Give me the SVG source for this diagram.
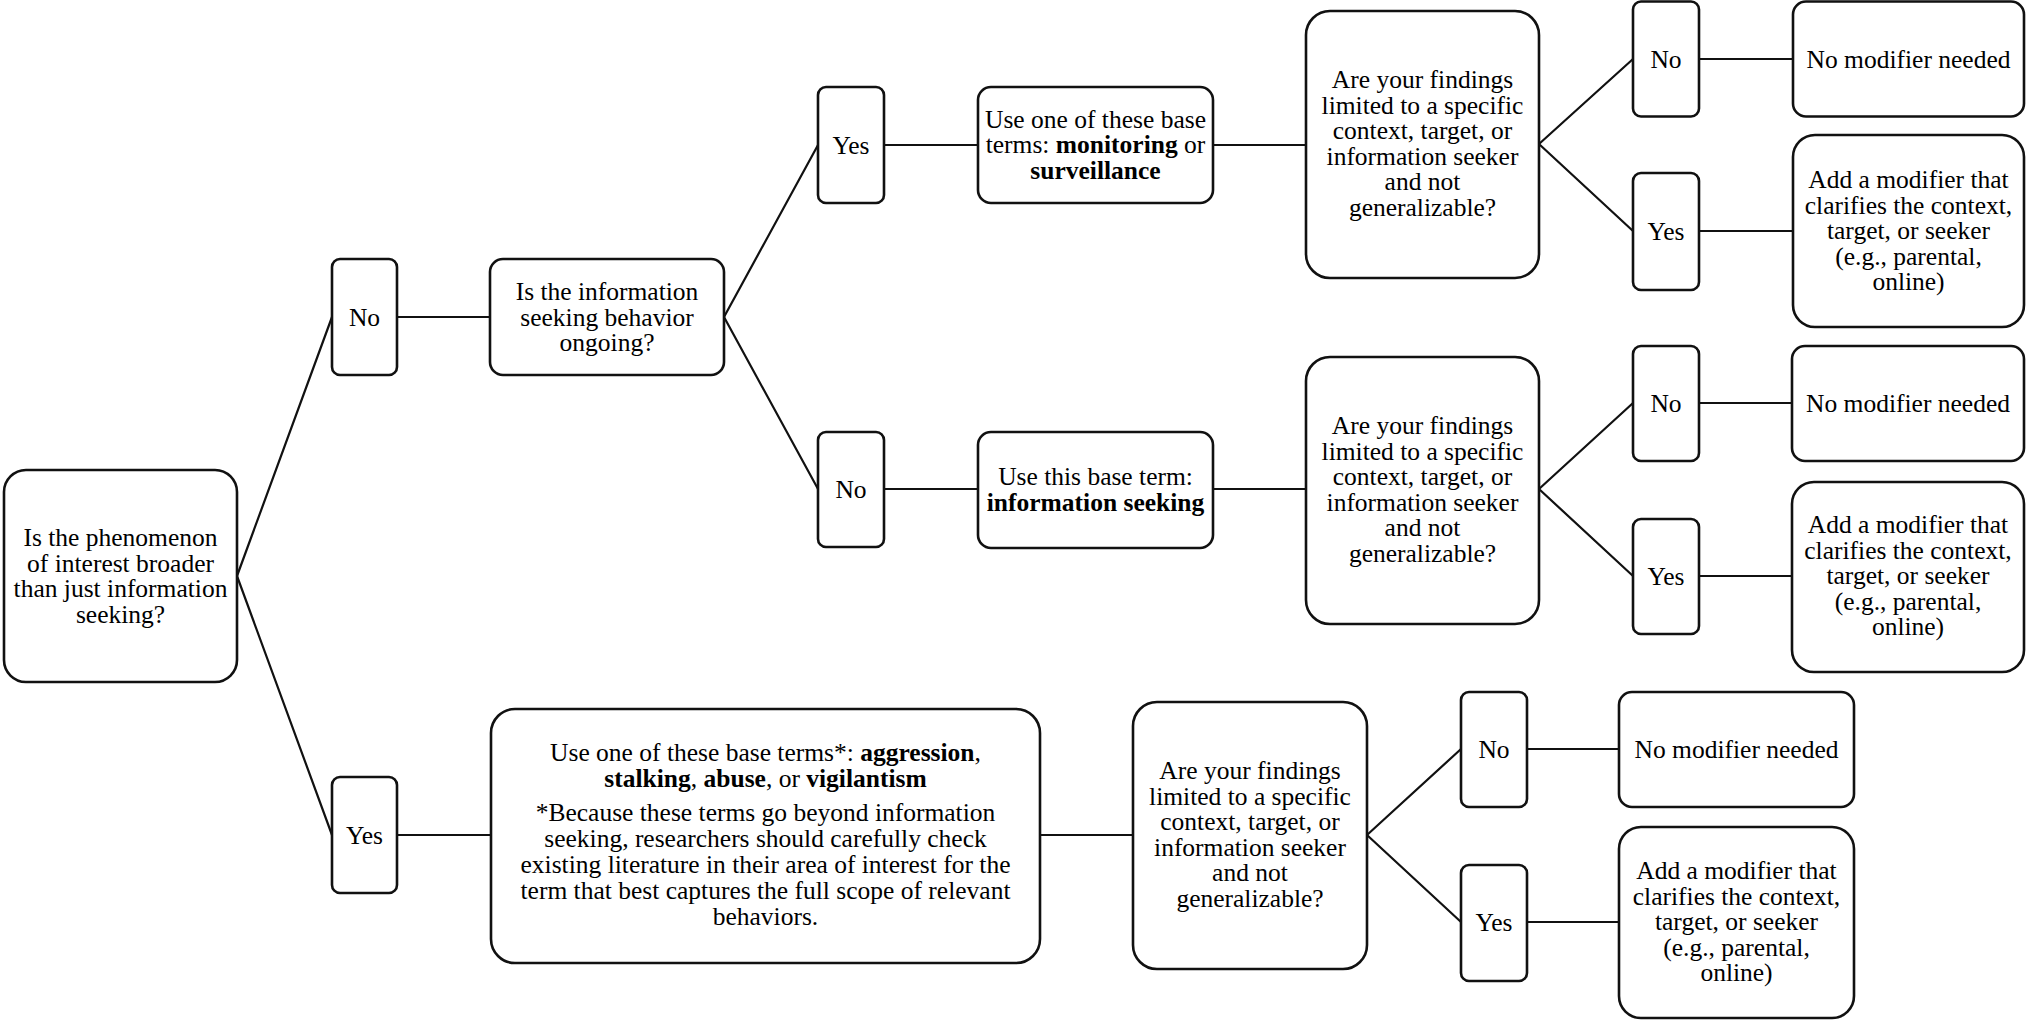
<svg xmlns="http://www.w3.org/2000/svg" width="2026" height="1021" viewBox="0 0 2026 1021">
<style>
.box{fill:#fff;stroke:#111;stroke-width:2.6}
.ln{stroke:#111;stroke-width:2.2;fill:none}
.t{font-family:"Liberation Serif","Times New Roman",Times,Tinos,"Noto Serif","DejaVu Serif",FreeSerif,serif;font-size:25.5px;fill:#000;text-anchor:middle}
.b{font-weight:bold}
</style>
<rect width="2026" height="1021" fill="#fff"/>
<g id="connectors">
<path class="ln" d="M237,576 L332,317 M237,576 L332,835"/>
<path class="ln" d="M397,317 H490"/>
<path class="ln" d="M724,317 L818,145 M724,317 L818,489"/>
<path class="ln" d="M884,145 H978 M1213,145 H1306"/>
<path class="ln" d="M1539,144 L1633,59 M1539,144 L1633,231"/>
<path class="ln" d="M1699,59 H1793 M1699,231 H1793"/>
<path class="ln" d="M884,489 H978 M1213,489 H1306"/>
<path class="ln" d="M1539,489 L1633,403 M1539,489 L1633,576"/>
<path class="ln" d="M1699,403 H1792 M1699,576 H1792"/>
<path class="ln" d="M397,835 H491 M1040,835 H1133"/>
<path class="ln" d="M1367,835 L1461,749 M1367,835 L1461,922"/>
<path class="ln" d="M1527,749 H1619 M1527,922 H1619"/>
</g>
<g class="t">
<g id="root">
<rect class="box" x="4" y="470" width="233" height="212" rx="22"/>
<text x="120.5" y="546">Is the phenomenon</text>
<text x="120.5" y="571.6">of interest broader</text>
<text x="120.5" y="597.2">than just information</text>
<text x="120.5" y="622.8">seeking?</text>
</g>
<g id="no1">
<rect class="box" x="332" y="259" width="65" height="116" rx="8"/>
<text x="364.5" y="326">No</text>
</g>
<g id="yes1">
<rect class="box" x="332" y="777" width="65" height="116" rx="8"/>
<text x="364.5" y="844">Yes</text>
</g>
<g id="ongoing">
<rect class="box" x="490" y="259" width="234" height="116" rx="13"/>
<text x="607" y="300">Is the information</text>
<text x="607" y="325.6">seeking behavior</text>
<text x="607" y="351.2">ongoing?</text>
</g>
<g id="yes2">
<rect class="box" x="818" y="87" width="66" height="116" rx="8"/>
<text x="851" y="153.5">Yes</text>
</g>
<g id="monitoring">
<rect class="box" x="978" y="87" width="235" height="116" rx="13"/>
<text x="1095.5" y="127.5">Use one of these base</text>
<text x="1095.5" y="153.1">terms: <tspan class="b">monitoring</tspan> or</text>
<text x="1095.5" y="178.7" class="b">surveillance</text>
</g>
<g id="q1">
<rect class="box" x="1306" y="11" width="233" height="267" rx="24"/>
<text x="1422.5" y="88">Are your findings</text>
<text x="1422.5" y="113.6">limited to a specific</text>
<text x="1422.5" y="139.2">context, target, or</text>
<text x="1422.5" y="164.8">information seeker</text>
<text x="1422.5" y="190.4">and not</text>
<text x="1422.5" y="216">generalizable?</text>
</g>
<g id="no3a">
<rect class="box" x="1633" y="1.5" width="66" height="115" rx="8"/>
<text x="1666" y="67.5">No</text>
</g>
<g id="nomod1">
<rect class="box" x="1793" y="1.5" width="231" height="115" rx="13"/>
<text x="1908.5" y="67.5">No modifier needed</text>
</g>
<g id="yes3a">
<rect class="box" x="1633" y="173" width="66" height="117" rx="8"/>
<text x="1666" y="239.5">Yes</text>
</g>
<g id="addmod1">
<rect class="box" x="1793" y="135" width="231" height="192" rx="22"/>
<text x="1908.5" y="188">Add a modifier that</text>
<text x="1908.5" y="213.6">clarifies the context,</text>
<text x="1908.5" y="239.2">target, or seeker</text>
<text x="1908.5" y="264.8">(e.g., parental,</text>
<text x="1908.5" y="290.4">online)</text>
</g>
<g id="no2">
<rect class="box" x="818" y="432" width="66" height="115" rx="8"/>
<text x="851" y="497.5">No</text>
</g>
<g id="infoseeking">
<rect class="box" x="978" y="432" width="235" height="116" rx="13"/>
<text x="1095.5" y="485">Use this base term:</text>
<text x="1095.5" y="510.6" class="b">information seeking</text>
</g>
<g id="q2">
<rect class="box" x="1306" y="357" width="233" height="267" rx="24"/>
<text x="1422.5" y="434">Are your findings</text>
<text x="1422.5" y="459.6">limited to a specific</text>
<text x="1422.5" y="485.2">context, target, or</text>
<text x="1422.5" y="510.8">information seeker</text>
<text x="1422.5" y="536.4">and not</text>
<text x="1422.5" y="562">generalizable?</text>
</g>
<g id="no3b">
<rect class="box" x="1633" y="346" width="66" height="115" rx="8"/>
<text x="1666" y="411.5">No</text>
</g>
<g id="nomod2">
<rect class="box" x="1792" y="346" width="232" height="115" rx="13"/>
<text x="1908" y="411.5">No modifier needed</text>
</g>
<g id="yes3b">
<rect class="box" x="1633" y="519" width="66" height="115" rx="8"/>
<text x="1666" y="584.5">Yes</text>
</g>
<g id="addmod2">
<rect class="box" x="1792" y="482" width="232" height="190" rx="22"/>
<text x="1908" y="533">Add a modifier that</text>
<text x="1908" y="558.6">clarifies the context,</text>
<text x="1908" y="584.2">target, or seeker</text>
<text x="1908" y="609.8">(e.g., parental,</text>
<text x="1908" y="635.4">online)</text>
</g>
<g id="broader">
<rect class="box" x="491" y="709" width="549" height="254" rx="24"/>
<text x="765.5" y="761">Use one of these base terms*: <tspan class="b">aggression</tspan>,</text>
<text x="765.5" y="787"><tspan class="b">stalking</tspan>, <tspan class="b">abuse</tspan>, or <tspan class="b">vigilantism</tspan></text>
<text x="765.5" y="821">*Because these terms go beyond information</text>
<text x="765.5" y="847">seeking, researchers should carefully check</text>
<text x="765.5" y="873">existing literature in their area of interest for the</text>
<text x="765.5" y="899">term that best captures the full scope of relevant</text>
<text x="765.5" y="925">behaviors.</text>
</g>
<g id="q3">
<rect class="box" x="1133" y="702" width="234" height="267" rx="24"/>
<text x="1250" y="779">Are your findings</text>
<text x="1250" y="804.6">limited to a specific</text>
<text x="1250" y="830.2">context, target, or</text>
<text x="1250" y="855.8">information seeker</text>
<text x="1250" y="881.4">and not</text>
<text x="1250" y="907">generalizable?</text>
</g>
<g id="no3c">
<rect class="box" x="1461" y="692" width="66" height="115" rx="8"/>
<text x="1494" y="757.5">No</text>
</g>
<g id="nomod3">
<rect class="box" x="1619" y="692" width="235" height="115" rx="13"/>
<text x="1736.5" y="757.5">No modifier needed</text>
</g>
<g id="yes3c">
<rect class="box" x="1461" y="865" width="66" height="116" rx="8"/>
<text x="1494" y="930.5">Yes</text>
</g>
<g id="addmod3">
<rect class="box" x="1619" y="827" width="235" height="191" rx="22"/>
<text x="1736.5" y="879">Add a modifier that</text>
<text x="1736.5" y="904.6">clarifies the context,</text>
<text x="1736.5" y="930.2">target, or seeker</text>
<text x="1736.5" y="955.8">(e.g., parental,</text>
<text x="1736.5" y="981.4">online)</text>
</g>
</g>
</svg>
